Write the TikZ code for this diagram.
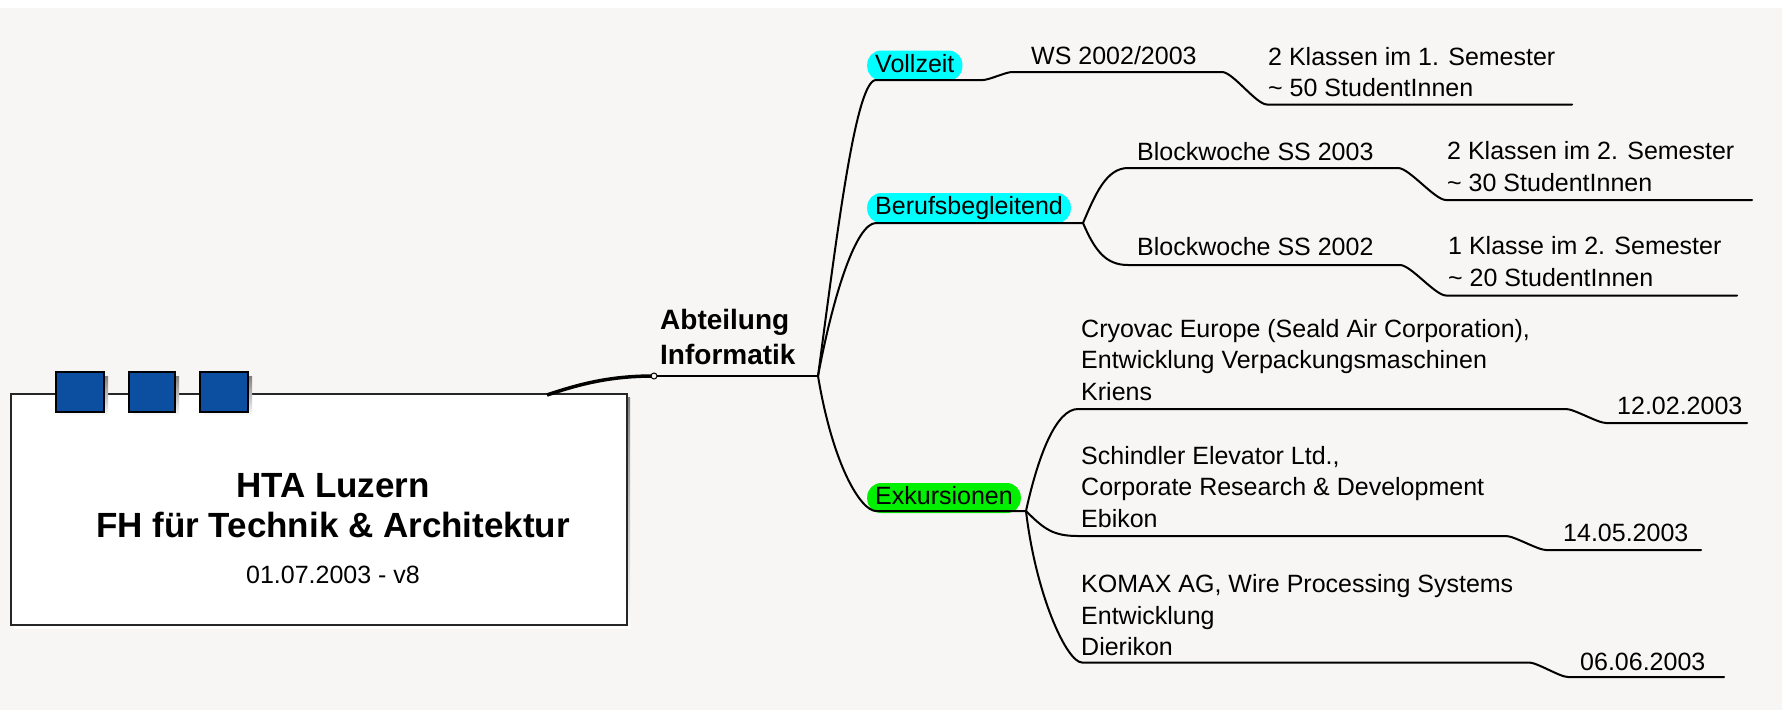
\documentclass[tikz,border=0pt]{standalone}
\usepackage{fontspec}
\setmainfont{Liberation Sans}
\definecolor{paper}{RGB}{247,246,244}
\definecolor{pillblue}{RGB}{0,255,255}
\definecolor{pillgreen}{RGB}{0,240,0}
\definecolor{squareblue}{RGB}{12,78,160}
\definecolor{shade}{RGB}{200,200,200}
\tikzset{
  txt/.style={inner sep=0pt, anchor=base west, align=left, font=\fontsize{25}{31.5}\selectfont},
  pill/.style={fill=#1, rounded corners=14pt, inner xsep=8pt, inner ysep=0pt, minimum height=30pt,
    text height=18pt, text depth=5pt, anchor=west, font=\fontsize{25}{30}\selectfont},
  branch/.style={line width=2pt, line cap=round, line join=round},
  stepline/.style={out=0, in=180, looseness=.5},
  sq/.style={draw=black, line width=2pt, fill=squareblue, minimum width=48pt, minimum height=40pt, inner sep=0pt},
}
\begin{document}
\begin{tikzpicture}[x=1pt,y=-1pt]
\useasboundingbox (0,0) rectangle (1782,710);
\fill[paper] (0,8) rectangle (1782,710);

% Hauptbox
\fill[shade] (14,397) rectangle (630,628);
\node[draw=black!85, line width=2.5pt, fill=white, minimum width=616pt, minimum height=231pt, inner sep=0pt] (root) at (319,509.5) {};

\fill[shade] (60,376) rectangle (108,416);
\fill[shade] (133,376) rectangle (179,416);
\fill[shade] (204,376) rectangle (252,416);
\node[sq] (sq1) at (80,392) {};
\node[sq, minimum width=46pt] (sq2) at (152,392) {};
\node[sq] (sq3) at (224,392) {};

\node[font=\bfseries\fontsize{35}{40}\selectfont, align=center] (title) at (333,506) {HTA Luzern\\FH für Technik \& Architektur};
\node[font=\fontsize{25}{30}\selectfont, anchor=base] (version) at (333,583) {01.07.2003 - v8};

% Zentrum (base = letzte Zeile)
\node[txt, font=\bfseries\fontsize{28}{35.6}\selectfont] (dept) at (660,364.6) {Abteilung\\Informatik};
\coordinate (rootout) at (547,395);
\coordinate (dept-s) at (654,376);
\coordinate (dept-j) at (818,376);
\draw[line width=3.5pt] (rootout) .. controls (585,382) and (615,376) .. (dept-s);
\draw[branch] (dept-s) -- (dept-j);
\node[circle, draw, line width=1pt, fill=paper, inner sep=0pt, minimum size=6pt] (knob) at (dept-s) {};

% Hauptaeste
\node[pill=pillblue] (vz) at (867,65.5) {Vollzeit};
\node[pill=pillblue] (bb) at (867,208) {Berufsbegleitend};
\node[pill=pillgreen] (ex) at (867,498) {Exkursionen};

\coordinate (vz-s) at (876,80);     \coordinate (vz-e) at (983,80);
\coordinate (ws-s) at (1012,72);    \coordinate (ws-e) at (1222,72);
\coordinate (kl1-s) at (1267,104.5); \coordinate (kl1-e) at (1572,104.5);

\coordinate (bb-s) at (876,223);    \coordinate (bb-j) at (1083,223);
\coordinate (bw3-s) at (1128,168);  \coordinate (bw3-e) at (1398,168);
\coordinate (kl2-s) at (1446,200);  \coordinate (kl2-e) at (1752,200);
\coordinate (bw2-s) at (1128,265);  \coordinate (bw2-e) at (1400,265);
\coordinate (kl3-s) at (1446,295.5); \coordinate (kl3-e) at (1737,295.5);

\coordinate (ex-s) at (876,511);    \coordinate (ex-j) at (1026,511);
\coordinate (cv-s) at (1078,409);   \coordinate (cv-e) at (1566,409);
\coordinate (d1-s) at (1606,423);   \coordinate (d1-e) at (1747,423);
\coordinate (sc-s) at (1078,536);   \coordinate (sc-e) at (1506,536);
\coordinate (d2-s) at (1546,550);   \coordinate (d2-e) at (1701,550);
\coordinate (km-s) at (1082,662.5); \coordinate (km-e) at (1529,662.5);
\coordinate (d3-s) at (1568,677);   \coordinate (d3-e) at (1724,677);

\draw[branch] (dept-j) .. controls +(20,-150) and +(-20,0) .. (vz-s) -- (vz-e) to[stepline] (ws-s) -- (ws-e) to[stepline] (kl1-s) -- (kl1-e);
\draw[branch] (dept-j) .. controls +(15,-80) and +(-20,0) .. (bb-s) -- (bb-j);
\draw[branch] (bb-j) .. controls +(12,-28) and +(-22,0) .. (bw3-s) -- (bw3-e) to[stepline] (kl2-s) -- (kl2-e);
\draw[branch] (bb-j) .. controls +(12,28) and +(-22,0) .. (bw2-s) -- (bw2-e) to[stepline] (kl3-s) -- (kl3-e);
\draw[branch] (dept-j) .. controls +(15,90) and +(-15,0) .. (ex-s) -- (ex-j);
\draw[branch] (ex-j) .. controls +(12,-55) and +(-22,0) .. (cv-s) -- (cv-e) to[stepline] (d1-s) -- (d1-e);
\draw[branch] (ex-j) .. controls +(18,18) and +(-25,0) .. (sc-s) -- (sc-e) to[stepline] (d2-s) -- (d2-e);
\draw[branch] (ex-j) .. controls +(10,85) and +(-15,0) .. (km-s) -- (km-e) to[stepline] (d3-s) -- (d3-e);

% Texte (mehrzeilig: base = letzte Zeile)
\node[txt] (ws) at (1031,64.7) {WS 2002/2003};
\node[txt] (kl1) at (1268,96.5) {2 Klassen im 1. Semester\\\textasciitilde{} 50 StudentInnen};
\node[txt] (bw3) at (1137,160) {Blockwoche SS 2003};
\node[txt] (kl2) at (1447,191) {2 Klassen im 2. Semester\\\textasciitilde{} 30 StudentInnen};
\node[txt] (bw2) at (1137,255.5) {Blockwoche SS 2002};
\node[txt] (kl3) at (1448,286) {1 Klasse im 2. Semester\\\textasciitilde{} 20 StudentInnen};
\node[txt] (cv) at (1081,400) {Cryovac Europe (Seald Air Corporation),\\Entwicklung Verpackungsmaschinen\\Kriens};
\node[txt] (d1) at (1617,414.7) {12.02.2003};
\node[txt] (sc) at (1081,527) {Schindler Elevator Ltd.,\\Corporate Research \& Development\\Ebikon};
\node[txt] (d2) at (1563,541) {14.05.2003};
\node[txt] (km) at (1081,655.7) {KOMAX AG, Wire Processing Systems\\Entwicklung\\Dierikon};
\node[txt] (d3) at (1580,670.4) {06.06.2003};
\end{tikzpicture}
\end{document}
